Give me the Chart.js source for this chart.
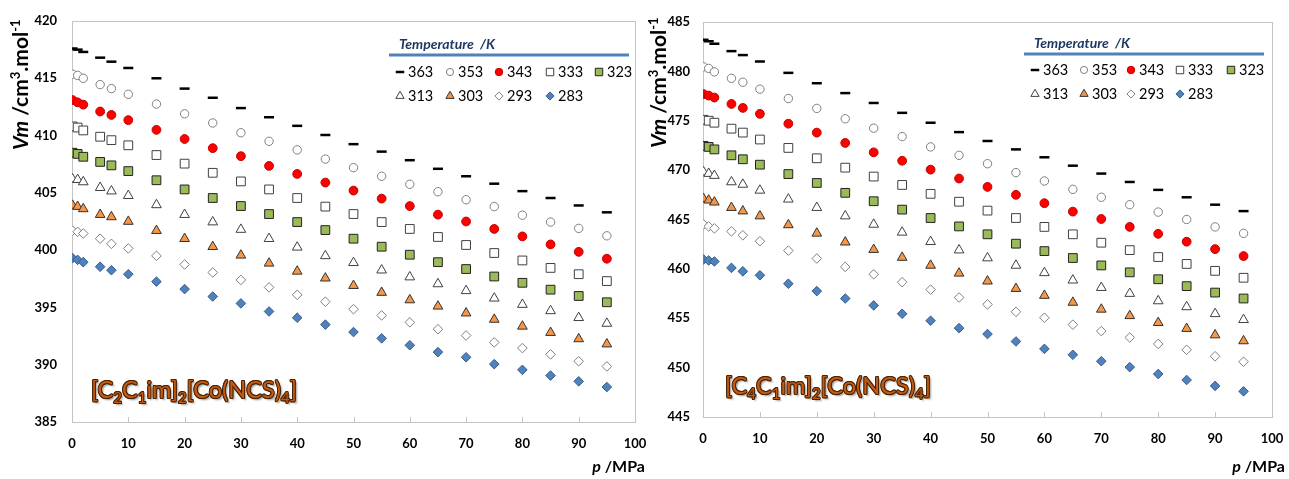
<!DOCTYPE html>
<html><head><meta charset="utf-8">
<script src="https://cdn.jsdelivr.net/npm/chart.js@4.4.1/dist/chart.umd.min.js"></script>
<style>
html,body{margin:0;padding:0;background:#fff;}
#wrap{position:relative;width:1289px;height:479px;overflow:hidden;font-family:Lato,"Open Sans",sans-serif;}
canvas{position:absolute;top:0;}
.yt{position:absolute;transform-origin:left top;transform:rotate(-90deg);white-space:nowrap;font-weight:700;font-size:21px;line-height:24px;color:#000;}
.yt sup{font-size:13px;line-height:0;vertical-align:8px;}
.xt{position:absolute;white-space:nowrap;font-weight:700;font-size:16px;line-height:20px;color:#000;text-align:right;}
.cmp{position:absolute;white-space:nowrap;font-size:23.5px;line-height:28px;color:#C55A11;
 text-shadow:1px 0 0 #4a2305,-1px 0 0 #4a2305,0 1px 0 #4a2305,0 -1px 0 #4a2305,0.7px 0.7px 0 #4a2305,-0.7px -0.7px 0 #4a2305,0.7px -0.7px 0 #4a2305,-0.7px 0.7px 0 #4a2305,2px 2px 2px rgba(0,0,0,0.45);}
.cmp sub{font-size:15px;line-height:0;vertical-align:-5px;}
</style></head>
<body>
<div id="wrap">
<canvas id="c1" width="650" height="479" style="left:0"></canvas>
<canvas id="c2" width="639" height="479" style="left:650px"></canvas>
<div class="yt" style="left:8px;top:150px"><i>Vm</i> /cm<sup>3</sup>.mol<sup>-1</sup></div>
<div class="yt" style="left:646px;top:148px"><i>Vm</i> /cm<sup>3</sup>.mol<sup>-1</sup></div>
<div class="xt" style="right:644px;top:456px"><i>p</i> /MPa</div>
<div class="xt" style="right:4px;top:456px"><i>p</i> /MPa</div>
<div class="cmp" style="left:91px;top:375px">[C<sub>2</sub>C<sub>1</sub>im]<sub>2</sub>[Co(NCS)<sub>4</sub>]</div>
<div class="cmp" style="left:725px;top:371px">[C<sub>4</sub>C<sub>1</sub>im]<sub>2</sub>[Co(NCS)<sub>4</sub>]</div>
</div>
<script>
// ---- data ----
const pressure = [0.1, 1, 2, 5, 7, 10, 15, 20, 25, 30, 35, 40, 45, 50, 55, 60, 65, 70, 75, 80, 85, 90, 95];
const temperatures = ['363', '353', '343', '333', '323', '313', '303', '293', '283'];
const xTicks = [0, 10, 20, 30, 40, 50, 60, 70, 80, 90, 100];
const yTicksC2 = [385, 390, 395, 400, 405, 410, 415, 420];
const yTicksC4 = [445, 450, 455, 460, 465, 470, 475, 480, 485];

// [C2C1im]2[Co(NCS)4]
const c2_363 = [417.6, 417.5, 417.3, 416.8, 416.45, 415.9, 415.0, 414.1, 413.3, 412.4, 411.6, 410.85, 410.05, 409.25, 408.6, 407.85, 407.1, 406.45, 405.8, 405.15, 404.55, 403.9, 403.3];
const c2_353 = [415.35, 415.25, 415.0, 414.45, 414.1, 413.6, 412.75, 411.9, 411.1, 410.25, 409.5, 408.75, 407.95, 407.2, 406.45, 405.75, 405.1, 404.4, 403.8, 403.05, 402.45, 401.9, 401.25];
const c2_343 = [413.1, 412.9, 412.7, 412.1, 411.8, 411.35, 410.5, 409.7, 408.9, 408.2, 407.35, 406.65, 405.9, 405.2, 404.5, 403.85, 403.1, 402.5, 401.85, 401.2, 400.5, 399.85, 399.25];
const c2_333 = [410.8, 410.7, 410.45, 409.9, 409.6, 409.15, 408.3, 407.55, 406.75, 406.0, 405.3, 404.55, 403.8, 403.15, 402.45, 401.85, 401.15, 400.45, 399.75, 399.1, 398.45, 397.9, 397.3];
const c2_323 = [408.5, 408.4, 408.15, 407.7, 407.4, 406.9, 406.1, 405.3, 404.55, 403.85, 403.15, 402.45, 401.75, 401.0, 400.3, 399.6, 398.95, 398.35, 397.7, 397.15, 396.55, 396.0, 395.45];
const c2_313 = [406.2, 406.15, 405.95, 405.45, 405.15, 404.75, 403.95, 403.1, 402.45, 401.8, 401.0, 400.25, 399.5, 398.9, 398.25, 397.65, 397.05, 396.45, 395.8, 395.25, 394.7, 394.1, 393.6];
const c2_303 = [403.9, 403.8, 403.6, 403.1, 402.9, 402.5, 401.7, 401.0, 400.3, 399.55, 398.85, 398.15, 397.55, 396.9, 396.3, 395.65, 395.1, 394.5, 393.95, 393.35, 392.8, 392.25, 391.8];
const c2_293 = [401.7, 401.6, 401.45, 401.0, 400.55, 400.15, 399.5, 398.75, 398.05, 397.4, 396.75, 396.1, 395.5, 394.85, 394.3, 393.7, 393.1, 392.55, 391.95, 391.45, 390.9, 390.3, 389.85];
const c2_283 = [399.3, 399.15, 398.95, 398.55, 398.25, 397.9, 397.25, 396.6, 395.95, 395.35, 394.65, 394.1, 393.5, 392.85, 392.3, 391.7, 391.1, 390.65, 390.05, 389.55, 389.05, 388.55, 388.05];

// [C4C1im]2[Co(NCS)4]
const c4_363 = [483.2, 483.05, 482.8, 482.05, 481.65, 481.0, 479.85, 478.8, 477.8, 476.8, 475.8, 474.8, 473.85, 472.95, 472.1, 471.3, 470.45, 469.65, 468.8, 468.0, 467.25, 466.5, 465.85];
const c4_353 = [480.45, 480.3, 479.95, 479.3, 478.9, 478.2, 477.25, 476.25, 475.2, 474.25, 473.4, 472.35, 471.5, 470.65, 469.75, 468.9, 468.05, 467.25, 466.5, 465.75, 465.0, 464.25, 463.6];
const c4_343 = [477.7, 477.55, 477.35, 476.7, 476.3, 475.7, 474.7, 473.8, 472.75, 471.8, 470.95, 470.05, 469.15, 468.3, 467.5, 466.65, 465.8, 465.05, 464.25, 463.55, 462.75, 462.0, 461.3];
const c4_333 = [475.1, 475.0, 474.8, 474.2, 473.8, 473.1, 472.25, 471.2, 470.25, 469.35, 468.5, 467.6, 466.8, 465.9, 465.15, 464.25, 463.5, 462.65, 461.9, 461.2, 460.5, 459.8, 459.1];
const c4_323 = [472.45, 472.35, 472.1, 471.5, 471.1, 470.55, 469.6, 468.7, 467.7, 466.85, 466.0, 465.15, 464.3, 463.5, 462.55, 461.8, 461.1, 460.35, 459.65, 458.95, 458.25, 457.6, 457.0];
const c4_313 = [469.8, 469.65, 469.45, 468.8, 468.55, 467.95, 467.05, 466.2, 465.35, 464.5, 463.7, 462.75, 461.9, 461.1, 460.35, 459.6, 458.85, 458.1, 457.5, 456.75, 456.15, 455.45, 454.85];
const c4_303 = [467.1, 466.95, 466.75, 466.2, 465.85, 465.35, 464.45, 463.6, 462.7, 461.95, 461.15, 460.35, 459.55, 458.75, 458.0, 457.3, 456.6, 455.9, 455.25, 454.55, 453.95, 453.3, 452.7];
const c4_293 = [464.5, 464.3, 464.1, 463.8, 463.4, 462.8, 461.85, 461.05, 460.2, 459.45, 458.65, 457.9, 457.1, 456.4, 455.65, 455.05, 454.35, 453.7, 453.05, 452.4, 451.8, 451.15, 450.6];
const c4_283 = [460.95, 460.85, 460.75, 460.1, 459.75, 459.35, 458.5, 457.75, 457.0, 456.3, 455.45, 454.75, 454.0, 453.4, 452.65, 451.9, 451.3, 450.65, 450.05, 449.35, 448.75, 448.15, 447.6];

// ---- styles ----
const markerStyles = [
  {pointStyle:'line', radius:5, bg:'#000', border:'#000', bw:2.5},
  {pointStyle:'circle', radius:4.2, bg:'#fff', border:'#7f7f7f', bw:1},
  {pointStyle:'circle', radius:4.4, bg:'#ff0000', border:'#c00000', bw:1},
  {pointStyle:'rect', radius:6.2, bg:'#fff', border:'#404040', bw:1},
  {pointStyle:'rect', radius:6.2, bg:'#9bbb59', border:'#222', bw:1},
  {pointStyle:'triangle', radius:5.6, bg:'#fff', border:'#404040', bw:1},
  {pointStyle:'triangle', radius:5.6, bg:'#f79646', border:'#333', bw:1},
  {pointStyle:'rectRot', radius:4.8, bg:'#fff', border:'#7f7f7f', bw:1},
  {pointStyle:'rectRot', radius:4.8, bg:'#4f81bd', border:'#385d8a', bw:1}
];

function makeDatasets(series){
  return series.map((vals, i) => ({
    label: temperatures[i],
    data: pressure.map((p, k) => ({x: p, y: vals[k]})),
    showLine: false,
    pointStyle: markerStyles[i].pointStyle,
    pointRadius: markerStyles[i].radius,
    pointBackgroundColor: markerStyles[i].bg,
    pointBorderColor: markerStyles[i].border,
    pointBorderWidth: markerStyles[i].bw,
    order: -i
  }));
}

const framePlugin = {
  id: 'frame',
  beforeDatasetsDraw(chart){
    const {ctx, chartArea: a} = chart;
    ctx.save();
    ctx.strokeStyle = '#c4c4c4';
    ctx.lineWidth = 1;
    ctx.strokeRect(Math.round(a.left)+0.5, Math.round(a.top)+0.5, Math.round(a.right-a.left), Math.round(a.bottom-a.top));
    const xs = chart.scales.x;
    ctx.beginPath();
    xs.ticks.forEach(t => {
      const px = Math.round(xs.getPixelForValue(t.value)) + 0.5;
      ctx.moveTo(px, a.bottom);
      ctx.lineTo(px, a.bottom - 5);
    });
    ctx.stroke();
    ctx.restore();
  }
};

const legendPlugin = {
  id: 'tempLegend',
  afterDraw(chart, args, o){
    const ctx = chart.ctx;
    ctx.save();
    ctx.font = 'italic 700 14px Lato';
    ctx.fillStyle = '#1f3864';
    ctx.textBaseline = 'middle';
    ctx.textAlign = 'left';
    ctx.fillText('Temperature  /K', o.titleX, o.titleY);
    ctx.strokeStyle = '#4f81bd';
    ctx.lineWidth = 3;
    ctx.beginPath();
    ctx.moveTo(o.lineX0, o.lineY);
    ctx.lineTo(o.lineX1, o.lineY);
    ctx.stroke();
    chart.data.datasets.forEach((ds, i) => {
      const col = i % 5, row = Math.floor(i / 5);
      const x = o.colX[col], y = o.rowY[row];
      const ms = markerStyles[i];
      ctx.fillStyle = ms.bg;
      ctx.strokeStyle = ms.border;
      ctx.lineWidth = ms.bw;
      Chart.helpers.drawPoint(ctx, {pointStyle: ms.pointStyle, radius: ms.radius*0.85, borderWidth: ms.bw, rotation: 0}, x, y);
      ctx.fillStyle = '#000';
      ctx.font = '14.5px Lato';
      ctx.fillText(ds.label, x + 8, y + 0.5);
    });
    ctx.restore();
  }
};

function zeroPad(s){ s.paddingLeft = 0; s.paddingRight = 0; s.paddingTop = 0; s.paddingBottom = 0; }

function makeChart(id, series, yMin, yMax, yTicks, geo, leg){
  const tickFont = {family: 'Lato', weight: '700', size: 13};
  return new Chart(document.getElementById(id), {
    type: 'scatter',
    data: {datasets: makeDatasets(series)},
    options: {
      responsive: false, animation: false, events: [],
      layout: {padding: {left: 0, right: geo.padRight, top: geo.top, bottom: 0}},
      plugins: {legend: {display: false}, tooltip: {enabled: false}, tempLegend: leg},
      scales: {
        x: {
          type: 'linear', min: 0, max: 100,
          afterBuildTicks: s => { s.ticks = xTicks.map(v => ({value: v})); },
          ticks: {font: tickFont, color: '#000', padding: geo.xPad, maxRotation: 0, autoSkip: false},
          grid: {display: true, drawOnChartArea: false, drawTicks: false},
          border: {display: false},
          afterFit: s => { s.height = geo.xH; zeroPad(s); }
        },
        y: {
          type: 'linear', min: yMin, max: yMax,
          afterBuildTicks: s => { s.ticks = yTicks.map(v => ({value: v})); },
          ticks: {font: tickFont, color: '#000', padding: geo.yPad, autoSkip: false},
          grid: {display: true, drawOnChartArea: false, drawTicks: false},
          border: {display: false},
          afterFit: s => { s.width = geo.yW; zeroPad(s); }
        }
      }
    },
    plugins: [framePlugin, legendPlugin]
  });
}

makeChart('c1', [c2_363, c2_353, c2_343, c2_333, c2_323, c2_313, c2_303, c2_293, c2_283], 385, 420, yTicksC2,
  {padRight: 15, top: 21, xH: 57, yW: 72, xPad: 14, yPad: 15},
  {titleX: 399, titleY: 44, lineX0: 389, lineX1: 629, lineY: 55, colX: [400, 450, 499, 550, 599], rowY: [72, 96]});

makeChart('c2', [c4_363, c4_353, c4_343, c4_333, c4_323, c4_313, c4_303, c4_293, c4_283], 445, 485, yTicksC4,
  {padRight: 17, top: 22, xH: 62, yW: 53, xPad: 14, yPad: 13},
  {titleX: 384, titleY: 43, lineX0: 374, lineX1: 614, lineY: 54, colX: [385, 434, 481, 530, 581], rowY: [70, 94]});
</script>
</body></html>
